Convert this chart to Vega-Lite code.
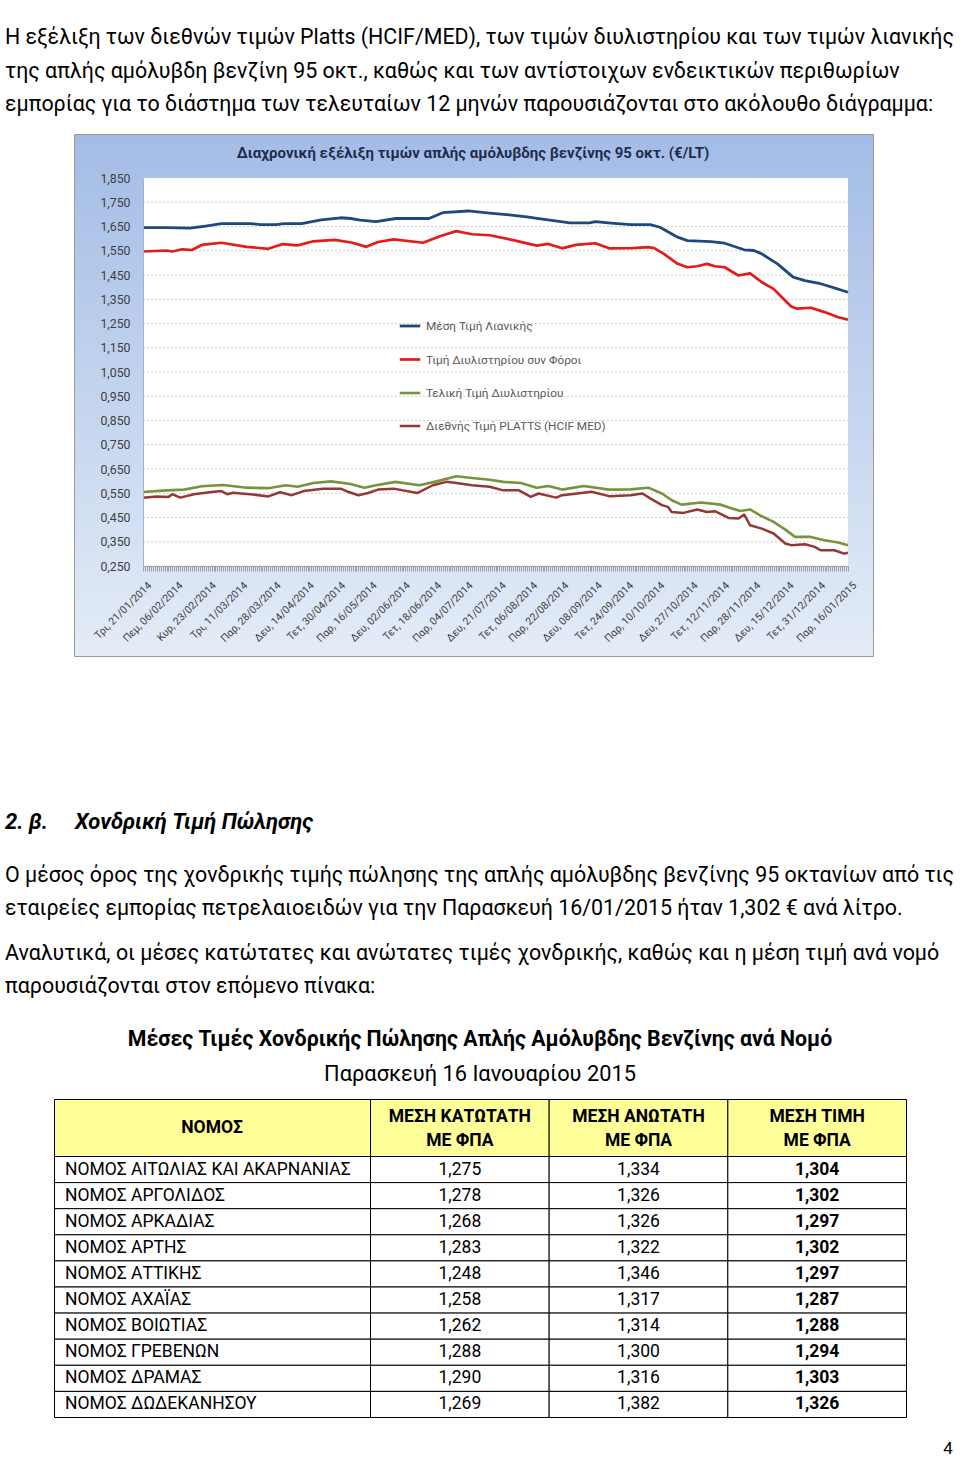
{
"$schema":"https://vega.github.io/schema/vega-lite/v6.json",
"width":960,"height":1459,"autosize":{"type":"none"},"padding":0,"background":"#ffffff",
"config":{"view":{"stroke":null},"locale":{"number":{"decimal":",","thousands":".","grouping":[3],"currency":["","\u00a0€"]}}},
"datasets":{
"one":[{"k":1}],
"texts":[
{"id":"intro","lines":["Η εξέλιξη των διεθνών τιμών Platts (HCIF/MED), των τιμών διυλιστηρίου και των τιμών λιανικής","της απλής αμόλυβδη βενζίνη 95 οκτ., καθώς και των αντίστοιχων ενδεικτικών περιθωρίων","εμπορίας για το διάστημα των τελευταίων 12 μηνών παρουσιάζονται στο ακόλουθο διάγραμμα:"]},
{"id":"ct","lines":["Διαχρονική εξέλιξη τιμών απλής αμόλυβδης βενζίνης 95 οκτ. (€/LT)"]},
{"id":"hnum","lines":["2. β."]},
{"id":"htxt","lines":["Χονδρική Τιμή Πώλησης"]},
{"id":"p1","lines":["Ο μέσος όρος της χονδρικής τιμής πώλησης της απλής αμόλυβδης βενζίνης 95 οκτανίων από τις","εταιρείες εμπορίας πετρελαιοειδών για την Παρασκευή 16/01/2015 ήταν 1,302 € ανά λίτρο."]},
{"id":"p2","lines":["Αναλυτικά, οι μέσες κατώτατες και ανώτατες τιμές χονδρικής, καθώς και η μέση τιμή ανά νομό","παρουσιάζονται στον επόμενο πίνακα:"]},
{"id":"tt","lines":["Μέσες Τιμές Χονδρικής Πώλησης Απλής Αμόλυβδης Βενζίνης ανά Νομό"]},
{"id":"ts","lines":["Παρασκευή 16 Ιανουαρίου 2015"]},
{"id":"hn","lines":["ΝΟΜΟΣ"]},
{"id":"pg","lines":["4"]}
],
"grid":[{"g":0.25},{"g":0.35},{"g":0.45},{"g":0.55},{"g":0.65},{"g":0.75},{"g":0.85},{"g":0.95},{"g":1.05},{"g":1.15},{"g":1.25},{"g":1.35},{"g":1.45},{"g":1.55},{"g":1.65},{"g":1.75},{"g":1.85}],
"prices":[
{"d":"2014-01-21","s":"L","v":1.645},{"d":"2014-02-02","s":"L","v":1.645},{"d":"2014-02-14","s":"L","v":1.643},{"d":"2014-02-22","s":"L","v":1.652},{"d":"2014-03-02","s":"L","v":1.662},{"d":"2014-03-17","s":"L","v":1.662},{"d":"2014-03-22","s":"L","v":1.658},{"d":"2014-03-30","s":"L","v":1.658},{"d":"2014-04-03","s":"L","v":1.662},{"d":"2014-04-12","s":"L","v":1.662},{"d":"2014-04-22","s":"L","v":1.677},{"d":"2014-05-02","s":"L","v":1.686},{"d":"2014-05-07","s":"L","v":1.683},{"d":"2014-05-12","s":"L","v":1.676},{"d":"2014-05-20","s":"L","v":1.670},{"d":"2014-05-30","s":"L","v":1.683},{"d":"2014-06-16","s":"L","v":1.683},{"d":"2014-06-23","s":"L","v":1.707},{"d":"2014-07-06","s":"L","v":1.714},{"d":"2014-07-17","s":"L","v":1.705},{"d":"2014-07-27","s":"L","v":1.698},{"d":"2014-08-05","s":"L","v":1.690},{"d":"2014-08-13","s":"L","v":1.680},{"d":"2014-08-27","s":"L","v":1.665},{"d":"2014-09-06","s":"L","v":1.665},{"d":"2014-09-09","s":"L","v":1.670},{"d":"2014-09-17","s":"L","v":1.664},{"d":"2014-09-27","s":"L","v":1.658},{"d":"2014-10-07","s":"L","v":1.658},{"d":"2014-10-12","s":"L","v":1.647},{"d":"2014-10-21","s":"L","v":1.606},{"d":"2014-10-26","s":"L","v":1.592},{"d":"2014-11-07","s":"L","v":1.588},{"d":"2014-11-14","s":"L","v":1.581},{"d":"2014-11-24","s":"L","v":1.554},{"d":"2014-11-29","s":"L","v":1.551},{"d":"2014-12-03","s":"L","v":1.537},{"d":"2014-12-11","s":"L","v":1.496},{"d":"2014-12-19","s":"L","v":1.441},{"d":"2014-12-25","s":"L","v":1.427},{"d":"2015-01-02","s":"L","v":1.414},{"d":"2015-01-09","s":"L","v":1.397},{"d":"2015-01-16","s":"L","v":1.379},
{"d":"2014-01-21","s":"D","v":1.547},{"d":"2014-02-02","s":"D","v":1.551},{"d":"2014-02-05","s":"D","v":1.547},{"d":"2014-02-10","s":"D","v":1.556},{"d":"2014-02-15","s":"D","v":1.553},{"d":"2014-02-20","s":"D","v":1.574},{"d":"2014-03-02","s":"D","v":1.583},{"d":"2014-03-15","s":"D","v":1.566},{"d":"2014-03-26","s":"D","v":1.558},{"d":"2014-04-02","s":"D","v":1.577},{"d":"2014-04-10","s":"D","v":1.572},{"d":"2014-04-18","s":"D","v":1.589},{"d":"2014-04-29","s":"D","v":1.595},{"d":"2014-05-08","s":"D","v":1.583},{"d":"2014-05-15","s":"D","v":1.566},{"d":"2014-05-21","s":"D","v":1.586},{"d":"2014-05-29","s":"D","v":1.597},{"d":"2014-06-13","s":"D","v":1.583},{"d":"2014-06-22","s":"D","v":1.611},{"d":"2014-06-30","s":"D","v":1.631},{"d":"2014-07-08","s":"D","v":1.618},{"d":"2014-07-17","s":"D","v":1.614},{"d":"2014-07-29","s":"D","v":1.594},{"d":"2014-08-10","s":"D","v":1.571},{"d":"2014-08-16","s":"D","v":1.578},{"d":"2014-08-23","s":"D","v":1.560},{"d":"2014-08-30","s":"D","v":1.574},{"d":"2014-09-09","s":"D","v":1.581},{"d":"2014-09-16","s":"D","v":1.560},{"d":"2014-09-28","s":"D","v":1.561},{"d":"2014-10-06","s":"D","v":1.565},{"d":"2014-10-09","s":"D","v":1.561},{"d":"2014-10-14","s":"D","v":1.537},{"d":"2014-10-21","s":"D","v":1.496},{"d":"2014-10-26","s":"D","v":1.482},{"d":"2014-10-31","s":"D","v":1.486},{"d":"2014-11-05","s":"D","v":1.496},{"d":"2014-11-09","s":"D","v":1.486},{"d":"2014-11-14","s":"D","v":1.482},{"d":"2014-11-21","s":"D","v":1.448},{"d":"2014-11-27","s":"D","v":1.457},{"d":"2014-12-03","s":"D","v":1.420},{"d":"2014-12-09","s":"D","v":1.393},{"d":"2014-12-14","s":"D","v":1.352},{"d":"2014-12-18","s":"D","v":1.320},{"d":"2014-12-21","s":"D","v":1.311},{"d":"2014-12-28","s":"D","v":1.315},{"d":"2015-01-04","s":"D","v":1.297},{"d":"2015-01-11","s":"D","v":1.276},{"d":"2015-01-16","s":"D","v":1.266},
{"d":"2014-01-21","s":"T","v":0.555},{"d":"2014-02-02","s":"T","v":0.562},{"d":"2014-02-11","s":"T","v":0.565},{"d":"2014-02-20","s":"T","v":0.579},{"d":"2014-03-03","s":"T","v":0.584},{"d":"2014-03-15","s":"T","v":0.573},{"d":"2014-03-26","s":"T","v":0.571},{"d":"2014-04-04","s":"T","v":0.583},{"d":"2014-04-10","s":"T","v":0.577},{"d":"2014-04-18","s":"T","v":0.592},{"d":"2014-04-27","s":"T","v":0.599},{"d":"2014-05-07","s":"T","v":0.588},{"d":"2014-05-14","s":"T","v":0.573},{"d":"2014-05-20","s":"T","v":0.583},{"d":"2014-05-30","s":"T","v":0.597},{"d":"2014-06-11","s":"T","v":0.583},{"d":"2014-06-20","s":"T","v":0.599},{"d":"2014-06-30","s":"T","v":0.620},{"d":"2014-07-08","s":"T","v":0.613},{"d":"2014-07-17","s":"T","v":0.606},{"d":"2014-07-24","s":"T","v":0.597},{"d":"2014-08-02","s":"T","v":0.592},{"d":"2014-08-10","s":"T","v":0.573},{"d":"2014-08-16","s":"T","v":0.580},{"d":"2014-08-23","s":"T","v":0.565},{"d":"2014-09-03","s":"T","v":0.580},{"d":"2014-09-16","s":"T","v":0.565},{"d":"2014-09-27","s":"T","v":0.566},{"d":"2014-10-06","s":"T","v":0.573},{"d":"2014-10-13","s":"T","v":0.549},{"d":"2014-10-18","s":"T","v":0.521},{"d":"2014-10-23","s":"T","v":0.503},{"d":"2014-11-02","s":"T","v":0.512},{"d":"2014-11-12","s":"T","v":0.503},{"d":"2014-11-17","s":"T","v":0.489},{"d":"2014-11-22","s":"T","v":0.477},{"d":"2014-11-27","s":"T","v":0.483},{"d":"2014-12-03","s":"T","v":0.455},{"d":"2014-12-09","s":"T","v":0.432},{"d":"2014-12-15","s":"T","v":0.400},{"d":"2014-12-20","s":"T","v":0.370},{"d":"2014-12-28","s":"T","v":0.370},{"d":"2015-01-04","s":"T","v":0.356},{"d":"2015-01-11","s":"T","v":0.347},{"d":"2015-01-16","s":"T","v":0.336},
{"d":"2014-01-21","s":"P","v":0.531},{"d":"2014-01-28","s":"P","v":0.537},{"d":"2014-02-03","s":"P","v":0.535},{"d":"2014-02-05","s":"P","v":0.546},{"d":"2014-02-09","s":"P","v":0.532},{"d":"2014-02-16","s":"P","v":0.546},{"d":"2014-02-24","s":"P","v":0.554},{"d":"2014-03-02","s":"P","v":0.559},{"d":"2014-03-05","s":"P","v":0.546},{"d":"2014-03-08","s":"P","v":0.552},{"d":"2014-03-18","s":"P","v":0.545},{"d":"2014-03-26","s":"P","v":0.537},{"d":"2014-04-01","s":"P","v":0.554},{"d":"2014-04-07","s":"P","v":0.542},{"d":"2014-04-13","s":"P","v":0.559},{"d":"2014-04-23","s":"P","v":0.569},{"d":"2014-05-02","s":"P","v":0.569},{"d":"2014-05-06","s":"P","v":0.555},{"d":"2014-05-11","s":"P","v":0.542},{"d":"2014-05-16","s":"P","v":0.551},{"d":"2014-05-21","s":"P","v":0.565},{"d":"2014-05-29","s":"P","v":0.569},{"d":"2014-06-10","s":"P","v":0.551},{"d":"2014-06-18","s":"P","v":0.583},{"d":"2014-06-25","s":"P","v":0.597},{"d":"2014-06-30","s":"P","v":0.592},{"d":"2014-07-08","s":"P","v":0.583},{"d":"2014-07-17","s":"P","v":0.577},{"d":"2014-07-24","s":"P","v":0.562},{"d":"2014-08-01","s":"P","v":0.562},{"d":"2014-08-07","s":"P","v":0.535},{"d":"2014-08-11","s":"P","v":0.549},{"d":"2014-08-20","s":"P","v":0.532},{"d":"2014-08-23","s":"P","v":0.542},{"d":"2014-09-02","s":"P","v":0.551},{"d":"2014-09-07","s":"P","v":0.556},{"d":"2014-09-16","s":"P","v":0.538},{"d":"2014-09-27","s":"P","v":0.542},{"d":"2014-10-03","s":"P","v":0.549},{"d":"2014-10-07","s":"P","v":0.529},{"d":"2014-10-13","s":"P","v":0.501},{"d":"2014-10-16","s":"P","v":0.494},{"d":"2014-10-18","s":"P","v":0.473},{"d":"2014-10-24","s":"P","v":0.469},{"d":"2014-10-31","s":"P","v":0.483},{"d":"2014-11-05","s":"P","v":0.473},{"d":"2014-11-09","s":"P","v":0.476},{"d":"2014-11-16","s":"P","v":0.448},{"d":"2014-11-21","s":"P","v":0.446},{"d":"2014-11-24","s":"P","v":0.462},{"d":"2014-11-27","s":"P","v":0.418},{"d":"2014-12-03","s":"P","v":0.404},{"d":"2014-12-09","s":"P","v":0.384},{"d":"2014-12-15","s":"P","v":0.343},{"d":"2014-12-18","s":"P","v":0.336},{"d":"2014-12-25","s":"P","v":0.340},{"d":"2014-12-30","s":"P","v":0.329},{"d":"2015-01-02","s":"P","v":0.315},{"d":"2015-01-09","s":"P","v":0.315},{"d":"2015-01-14","s":"P","v":0.301},{"d":"2015-01-16","s":"P","v":0.305}
],
"tbl":[
{"nomos":"ΝΟΜΟΣ ΑΙΤΩΛΙΑΣ ΚΑΙ ΑΚΑΡΝΑΝΙΑΣ","kat":1.275,"anot":1.334,"mesi":1.304},
{"nomos":"ΝΟΜΟΣ ΑΡΓΟΛΙΔΟΣ","kat":1.278,"anot":1.326,"mesi":1.302},
{"nomos":"ΝΟΜΟΣ ΑΡΚΑΔΙΑΣ","kat":1.268,"anot":1.326,"mesi":1.297},
{"nomos":"ΝΟΜΟΣ ΑΡΤΗΣ","kat":1.283,"anot":1.322,"mesi":1.302},
{"nomos":"ΝΟΜΟΣ ΑΤΤΙΚΗΣ","kat":1.248,"anot":1.346,"mesi":1.297},
{"nomos":"ΝΟΜΟΣ ΑΧΑΪΑΣ","kat":1.258,"anot":1.317,"mesi":1.287},
{"nomos":"ΝΟΜΟΣ ΒΟΙΩΤΙΑΣ","kat":1.262,"anot":1.314,"mesi":1.288},
{"nomos":"ΝΟΜΟΣ ΓΡΕΒΕΝΩΝ","kat":1.288,"anot":1.300,"mesi":1.294},
{"nomos":"ΝΟΜΟΣ ΔΡΑΜΑΣ","kat":1.290,"anot":1.316,"mesi":1.303},
{"nomos":"ΝΟΜΟΣ ΔΩΔΕΚΑΝΗΣΟΥ","kat":1.269,"anot":1.382,"mesi":1.326}
],
"hdr":[{"col":"kat","lines":["ΜΕΣΗ ΚΑΤΩΤΑΤΗ","ΜΕ ΦΠΑ"]},{"col":"anot","lines":["ΜΕΣΗ ΑΝΩΤΑΤΗ","ΜΕ ΦΠΑ"]},{"col":"mesi","lines":["ΜΕΣΗ ΤΙΜΗ","ΜΕ ΦΠΑ"]}]
},
"layer":[
{"data":{"name":"texts"},"transform":[{"filter":"datum.id === 'intro'"}],"mark":{"type":"text","align":"left","baseline":"alphabetic","font":"Roboto","fontSize":21.4,"lineHeight":33.5,"color":"#000000"},"encoding":{"text":{"field":"lines","type":"nominal"},"x":{"value":5},"y":{"value":44}}},
{"data":{"name":"one"},"mark":{"type":"rect","stroke":"#9a9a9a","strokeWidth":1,"fill":{"gradient":"linear","x1":0,"y1":0,"x2":0,"y2":1,"stops":[{"offset":0,"color":"#a3bce6"},{"offset":1,"color":"#e4ecf7"}]}},"encoding":{"x":{"value":74.5},"x2":{"value":873.5},"y":{"value":134.5},"y2":{"value":656.5}}},
{"layer":[
 {"data":{"name":"one"},"mark":{"type":"rect","fill":"#ffffff"},"encoding":{"x":{"datum":{"year":2014,"month":1,"date":21,"utc":true},"type":"temporal","scale":{"type":"utc"}},"x2":{"datum":{"year":2015,"month":1,"date":16,"utc":true}},"y":{"datum":0.25,"type":"quantitative"},"y2":{"datum":1.85}}},
 {"data":{"name":"grid"},"mark":{"type":"rule","color":"#cfcfcf","strokeDash":[2,2],"strokeWidth":1},"encoding":{"x":{"datum":{"year":2014,"month":1,"date":21,"utc":true},"type":"temporal","scale":{"type":"utc"}},"x2":{"datum":{"year":2015,"month":1,"date":16,"utc":true}},"y":{"field":"g","type":"quantitative"}}},
 {"data":{"name":"prices"},"mark":{"type":"line","strokeJoin":"round"},"encoding":{
   "x":{"field":"d","type":"temporal","scale":{"type":"utc","domain":[{"year":2014,"month":1,"date":21,"utc":true},{"year":2015,"month":1,"date":16,"utc":true}],"range":[143,848]},
     "axis":{"orient":"bottom","offset":-893,"zindex":2,"tickCount":360,"tickSize":5,"tickColor":"#a0a0a0","domainColor":"#a0a0a0","grid":false,"title":null,"labelAngle":-45,"labelOverlap":false,"labelFlush":false,"labelPadding":9,"labelOffset":3,"labelFont":"Roboto","labelFontSize":10.5,"labelColor":"#404040",
     "labelExpr":"indexof(['21/01/2014','06/02/2014','23/02/2014','11/03/2014','28/03/2014','14/04/2014','30/04/2014','16/05/2014','02/06/2014','18/06/2014','04/07/2014','21/07/2014','06/08/2014','22/08/2014','08/09/2014','24/09/2014','10/10/2014','27/10/2014','12/11/2014','28/11/2014','15/12/2014','31/12/2014','16/01/2015'], utcFormat(datum.value, '%d/%m/%Y')) >= 0 ? ['Κυρ','Δευ','Τρι','Τετ','Πεμ','Παρ','Σαβ'][utcday(datum.value)] + ', ' + utcFormat(datum.value, '%d/%m/%Y') : ''"}},
   "y":{"field":"v","type":"quantitative","scale":{"domain":[0.25,1.85],"range":[566,178],"nice":false,"zero":false},
     "axis":{"orient":"left","offset":-143,"zindex":2,"values":[0.25,0.35,0.45,0.55,0.65,0.75,0.85,0.95,1.05,1.15,1.25,1.35,1.45,1.55,1.65,1.75,1.85],"format":".3f","ticks":false,"tickSize":0,"labelPadding":13,"grid":false,"title":null,"domainColor":"#9fb3d4","labelFont":"Roboto","labelFontSize":12.3,"labelColor":"#404040"}},
   "color":{"field":"s","type":"nominal","scale":{"domain":["L","D","T","P"],"range":["#1f497d","#e41b1b","#77933c","#953735"]},
     "legend":{"orient":"none","legendX":398,"legendY":314,"title":null,"symbolType":"stroke","symbolSize":420,"labelFont":"Roboto","labelFontSize":11.8,"labelColor":"#595959","labelLimit":0,"rowPadding":14.5,"padding":0,"labelOffset":4,
     "labelExpr":"datum.label == 'L' ? 'Μέση Τιμή Λιανικής' : datum.label == 'D' ? 'Τιμή Διυλιστηρίου συν Φόροι' : datum.label == 'T' ? 'Τελική Τιμή Διυλιστηρίου' : 'Διεθνής Τιμή PLATTS (HCIF MED)'"}},
   "strokeWidth":{"field":"s","type":"nominal","scale":{"domain":["L","D","T","P"],"range":[2.8,2.5,3.5,1.5]},
     "legend":{"orient":"none","legendX":398,"legendY":314,"title":null,"symbolType":"stroke","symbolSize":420,"labelFont":"Roboto","labelFontSize":11.8,"labelColor":"#595959","labelLimit":0,"rowPadding":14.5,"padding":0,"labelOffset":4,
     "labelExpr":"datum.label == 'L' ? 'Μέση Τιμή Λιανικής' : datum.label == 'D' ? 'Τιμή Διυλιστηρίου συν Φόροι' : datum.label == 'T' ? 'Τελική Τιμή Διυλιστηρίου' : 'Διεθνής Τιμή PLATTS (HCIF MED)'"}}
 }},
 {"data":{"name":"texts"},"transform":[{"filter":"datum.id === 'ct'"}],"mark":{"type":"text","align":"center","baseline":"alphabetic","font":"Roboto","fontSize":15,"fontWeight":"bold","color":"#1f2d4d"},"encoding":{"text":{"field":"lines","type":"nominal"},"x":{"value":473},"y":{"value":158}}}
]},
{"data":{"name":"texts"},"transform":[{"filter":"datum.id === 'hnum'"}],"mark":{"type":"text","align":"left","baseline":"alphabetic","font":"Roboto","fontSize":22,"fontWeight":"bold","fontStyle":"italic","color":"#000000"},"encoding":{"text":{"field":"lines","type":"nominal"},"x":{"value":5},"y":{"value":829}}},
{"data":{"name":"texts"},"transform":[{"filter":"datum.id === 'htxt'"}],"mark":{"type":"text","align":"left","baseline":"alphabetic","font":"Roboto","fontSize":22,"fontWeight":"bold","fontStyle":"italic","color":"#000000"},"encoding":{"text":{"field":"lines","type":"nominal"},"x":{"value":75},"y":{"value":829}}},
{"data":{"name":"texts"},"transform":[{"filter":"datum.id === 'p1'"}],"mark":{"type":"text","align":"left","baseline":"alphabetic","font":"Roboto","fontSize":21.4,"lineHeight":33,"color":"#000000"},"encoding":{"text":{"field":"lines","type":"nominal"},"x":{"value":5},"y":{"value":882}}},
{"data":{"name":"texts"},"transform":[{"filter":"datum.id === 'p2'"}],"mark":{"type":"text","align":"left","baseline":"alphabetic","font":"Roboto","fontSize":21.4,"lineHeight":33,"color":"#000000"},"encoding":{"text":{"field":"lines","type":"nominal"},"x":{"value":5},"y":{"value":960}}},
{"data":{"name":"texts"},"transform":[{"filter":"datum.id === 'tt'"}],"mark":{"type":"text","align":"center","baseline":"alphabetic","font":"Roboto","fontSize":21.3,"fontWeight":"bold","color":"#000000"},"encoding":{"text":{"field":"lines","type":"nominal"},"x":{"value":480},"y":{"value":1046}}},
{"data":{"name":"texts"},"transform":[{"filter":"datum.id === 'ts'"}],"mark":{"type":"text","align":"center","baseline":"alphabetic","font":"Roboto","fontSize":21.8,"color":"#000000"},"encoding":{"text":{"field":"lines","type":"nominal"},"x":{"value":480},"y":{"value":1081}}},
{"data":{"name":"texts"},"transform":[{"filter":"datum.id === 'pg'"}],"mark":{"type":"text","align":"center","baseline":"middle","font":"Roboto","fontSize":17,"color":"#000000"},"encoding":{"text":{"field":"lines","type":"nominal"},"x":{"value":948},"y":{"value":1449}}},
{"layer":[
 {"data":{"name":"tbl"},"mark":{"type":"rect","fill":"#ffffff","stroke":"#000000","strokeWidth":1},"encoding":{"x":{"value":54.5},"x2":{"value":370.5},"y":{"field":"nomos","type":"nominal","sort":null,"scale":{"range":[1156.5,1417.5],"paddingInner":0,"paddingOuter":0},"axis":null}}},
 {"data":{"name":"tbl"},"mark":{"type":"text","align":"left","baseline":"middle","font":"Roboto","fontSize":17.5,"color":"#000000"},"encoding":{"x":{"value":65},"y":{"field":"nomos","type":"nominal","sort":null,"axis":null},"text":{"field":"nomos","type":"nominal"}}},
 {"data":{"name":"tbl"},"transform":[{"fold":["kat","anot","mesi"],"as":["col","val"]}],"mark":{"type":"rect","fill":"#ffffff","stroke":"#000000","strokeWidth":1},"encoding":{"x":{"field":"col","type":"nominal","scale":{"domain":["kat","anot","mesi"],"range":[370.5,906.5],"paddingInner":0,"paddingOuter":0},"axis":null},"y":{"field":"nomos","type":"nominal","sort":null,"axis":null}}},
 {"data":{"name":"tbl"},"transform":[{"fold":["kat","anot","mesi"],"as":["col","val"]},{"filter":"datum.col !== 'mesi'"}],"mark":{"type":"text","align":"center","baseline":"middle","font":"Roboto","fontSize":17.5,"color":"#000000"},"encoding":{"x":{"field":"col","type":"nominal","axis":null},"y":{"field":"nomos","type":"nominal","sort":null,"axis":null},"text":{"field":"val","type":"quantitative","format":".3f"}}},
 {"data":{"name":"tbl"},"transform":[{"fold":["kat","anot","mesi"],"as":["col","val"]},{"filter":"datum.col === 'mesi'"}],"mark":{"type":"text","align":"center","baseline":"middle","font":"Roboto","fontSize":17.5,"fontWeight":"bold","color":"#000000"},"encoding":{"x":{"field":"col","type":"nominal","axis":null},"y":{"field":"nomos","type":"nominal","sort":null,"axis":null},"text":{"field":"val","type":"quantitative","format":".3f"}}},
 {"data":{"name":"hdr"},"mark":{"type":"rect","fill":"#ffff99","stroke":"#000000","strokeWidth":1},"encoding":{"x":{"field":"col","type":"nominal","axis":null},"y":{"value":1099.5},"y2":{"value":1156.5}}},
 {"data":{"name":"hdr"},"mark":{"type":"text","align":"center","baseline":"alphabetic","font":"Roboto","fontSize":17.5,"fontWeight":"bold","lineHeight":24,"color":"#000000"},"encoding":{"x":{"field":"col","type":"nominal","axis":null},"y":{"value":1122},"text":{"field":"lines","type":"nominal"}}},
 {"data":{"name":"one"},"mark":{"type":"rect","fill":"#ffff99","stroke":"#000000","strokeWidth":1},"encoding":{"x":{"value":54.5},"x2":{"value":370.5},"y":{"value":1099.5},"y2":{"value":1156.5}}},
 {"data":{"name":"texts"},"transform":[{"filter":"datum.id === 'hn'"}],"mark":{"type":"text","align":"center","baseline":"middle","font":"Roboto","fontSize":17.5,"fontWeight":"bold","color":"#000000"},"encoding":{"text":{"field":"lines","type":"nominal"},"x":{"value":212},"y":{"value":1128}}}
]}
],
"resolve":{"scale":{"x":"independent","y":"independent"}}
}
